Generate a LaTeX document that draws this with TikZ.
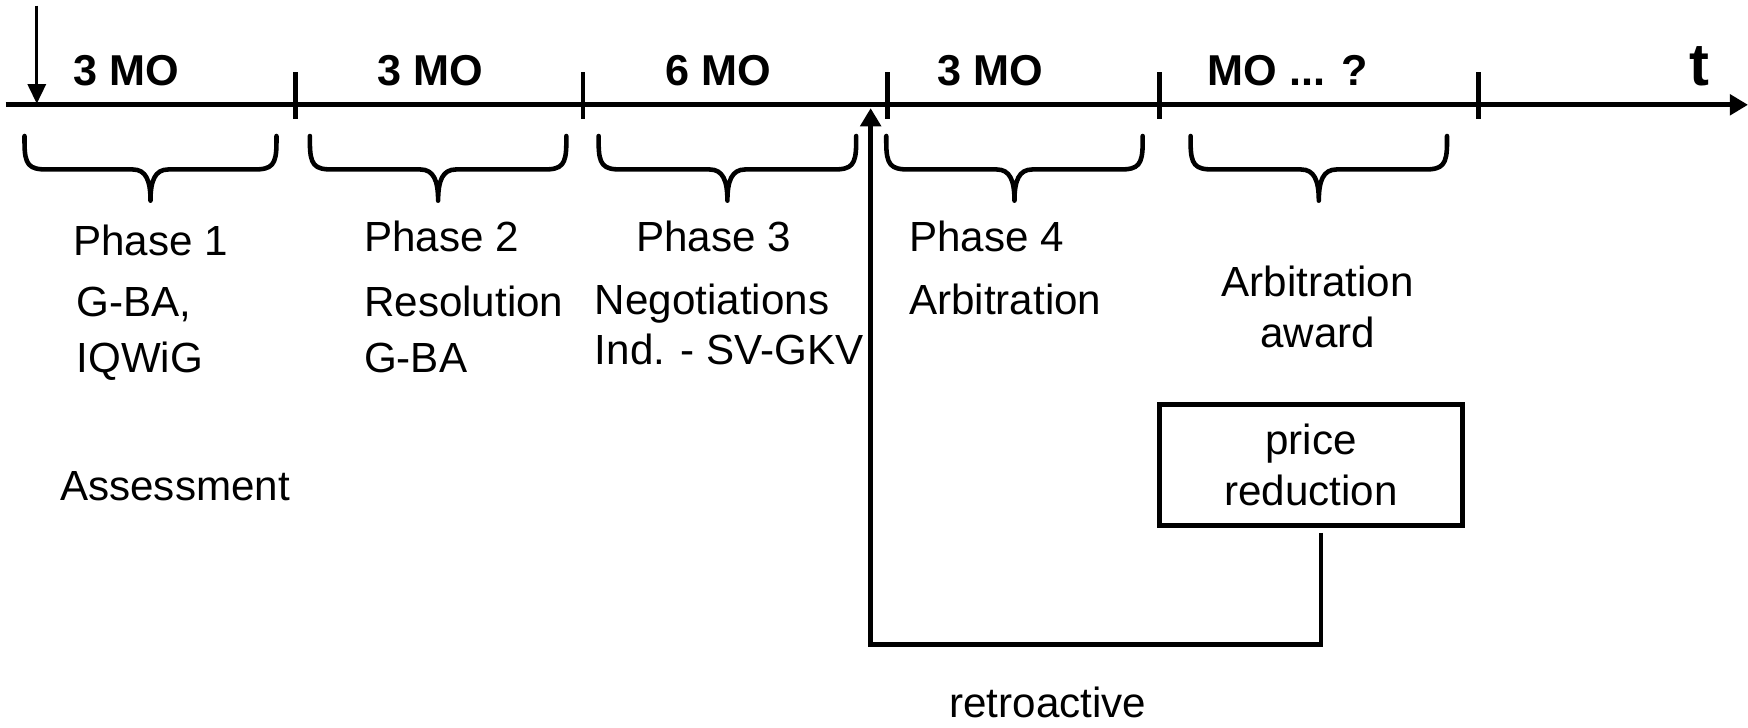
\documentclass[tikz,border=0pt]{standalone}
\usepackage{fontspec}
\setmainfont{Liberation Sans}
\usetikzlibrary{arrows.meta}
\begin{document}
\begin{tikzpicture}[x=0.011148cm,y=-0.011148cm,
  axisline/.style={line width=1.5pt},
  tickline/.style={line width=1.3pt},
  bracepath/.style={line width=1.3pt,line cap=round,line join=round},
  thinarrow/.style={line width=0.75pt,-{Triangle[length=5.6pt,width=5.2pt]}},
  retroline/.style={line width=1.35pt,-{Triangle[length=5.2pt,width=5.8pt]}},
  lbl/.style={font=\fontsize{12}{14}\selectfont,inner sep=0pt},
  molbl/.style={font=\fontsize{12.3}{14}\selectfont\bfseries,inner sep=0pt,anchor=base},
  boxnode/.style={draw,line width=1.4pt,minimum width=86.3pt,minimum height=34.6pt,align=center,font=\fontsize{12}{14.5}\selectfont}]
\useasboundingbox (0,0) rectangle (1568,653);
% axis
\coordinate (ax0) at (5,94);
\coordinate (ax1) at (1568,94);
\draw[axisline,-{Triangle[length=5.2pt,width=5.8pt]}] (ax0) -- (ax1);
\foreach \x [count=\i] in {265,523,796,1040,1326}
  \draw[tickline] (\x,65) coordinate (tt\i) -- (\x,107) coordinate (tb\i);
% start arrow
\coordinate (s0) at (33,5);
\coordinate (s1) at (33,93);
\draw[thinarrow] (s0) -- (s1);
% duration labels
\node[molbl] (m1) at (113,77) {3 MO};
\node[molbl] (m2) at (386,77) {3 MO};
\node[molbl] (m3) at (644,77) {6 MO};
\node[molbl] (m4) at (888,77) {3 MO};
\node[molbl] (m5) at (1155,77) {MO ... ?};
\node[molbl,font=\fontsize{17}{18}\selectfont\bfseries] (tl) at (1524,77) {t};
% braces
\foreach \a/\b in {22/248,278/508,537/768,795/1025,1068/1298}{
  \pgfmathsetmacro\c{(\a+\b)/2}
  \draw[bracepath] (\a,122) -- (\a,128) .. controls (\a,148) and (\a+4,152) .. (\a+20,152)
     -- (\c-16,152) .. controls (\c-4,152) and (\c,162) .. (\c,180)
     .. controls (\c,162) and (\c+4,152) .. (\c+16,152)
     -- (\b-20,152) .. controls (\b-4,152) and (\b,148) .. (\b,128) -- (\b,122);
}
% phase texts
\node[lbl,anchor=base] (p1) at (135,229) {Phase 1};
\node[lbl,anchor=base west] (p1a) at (68,284) {G-BA,};
\node[lbl,anchor=base west] (p1b) at (68,334) {IQWiG};
\node[lbl,anchor=base] (p1c) at (157,449) {Assessment};
\node[lbl,anchor=base west] (p2) at (326,226) {Phase 2};
\node[lbl,anchor=base west] (p2a) at (326,284) {Resolution};
\node[lbl,anchor=base west] (p2b) at (326,334) {G-BA};
\node[lbl,anchor=base] (p3) at (640,226) {Phase 3};
\node[lbl,anchor=base west] (p3a) at (533,282) {Negotiations};
\node[lbl,anchor=base west] (p3b) at (533,327) {Ind. - SV-GKV};
\node[lbl,anchor=base west] (p4) at (815,226) {Phase 4};
\node[lbl,anchor=base west] (p4a) at (815,282) {Arbitration};
\node[lbl,anchor=base] (aw1) at (1182,266) {Arbitration};
\node[lbl,anchor=base] (aw2) at (1182,312) {award};
% box
\node[boxnode] (box) at (1176,417) {price\\reduction};
% retroactive connector
\coordinate (r0) at (1185,478);
\coordinate (r1) at (781,578);
\coordinate (up) at (781,97);
\draw[retroline] (r0) |- (r1) -- (up);
\node[lbl,anchor=base] (retro) at (940,644) {retroactive};
\end{tikzpicture}
\end{document}
